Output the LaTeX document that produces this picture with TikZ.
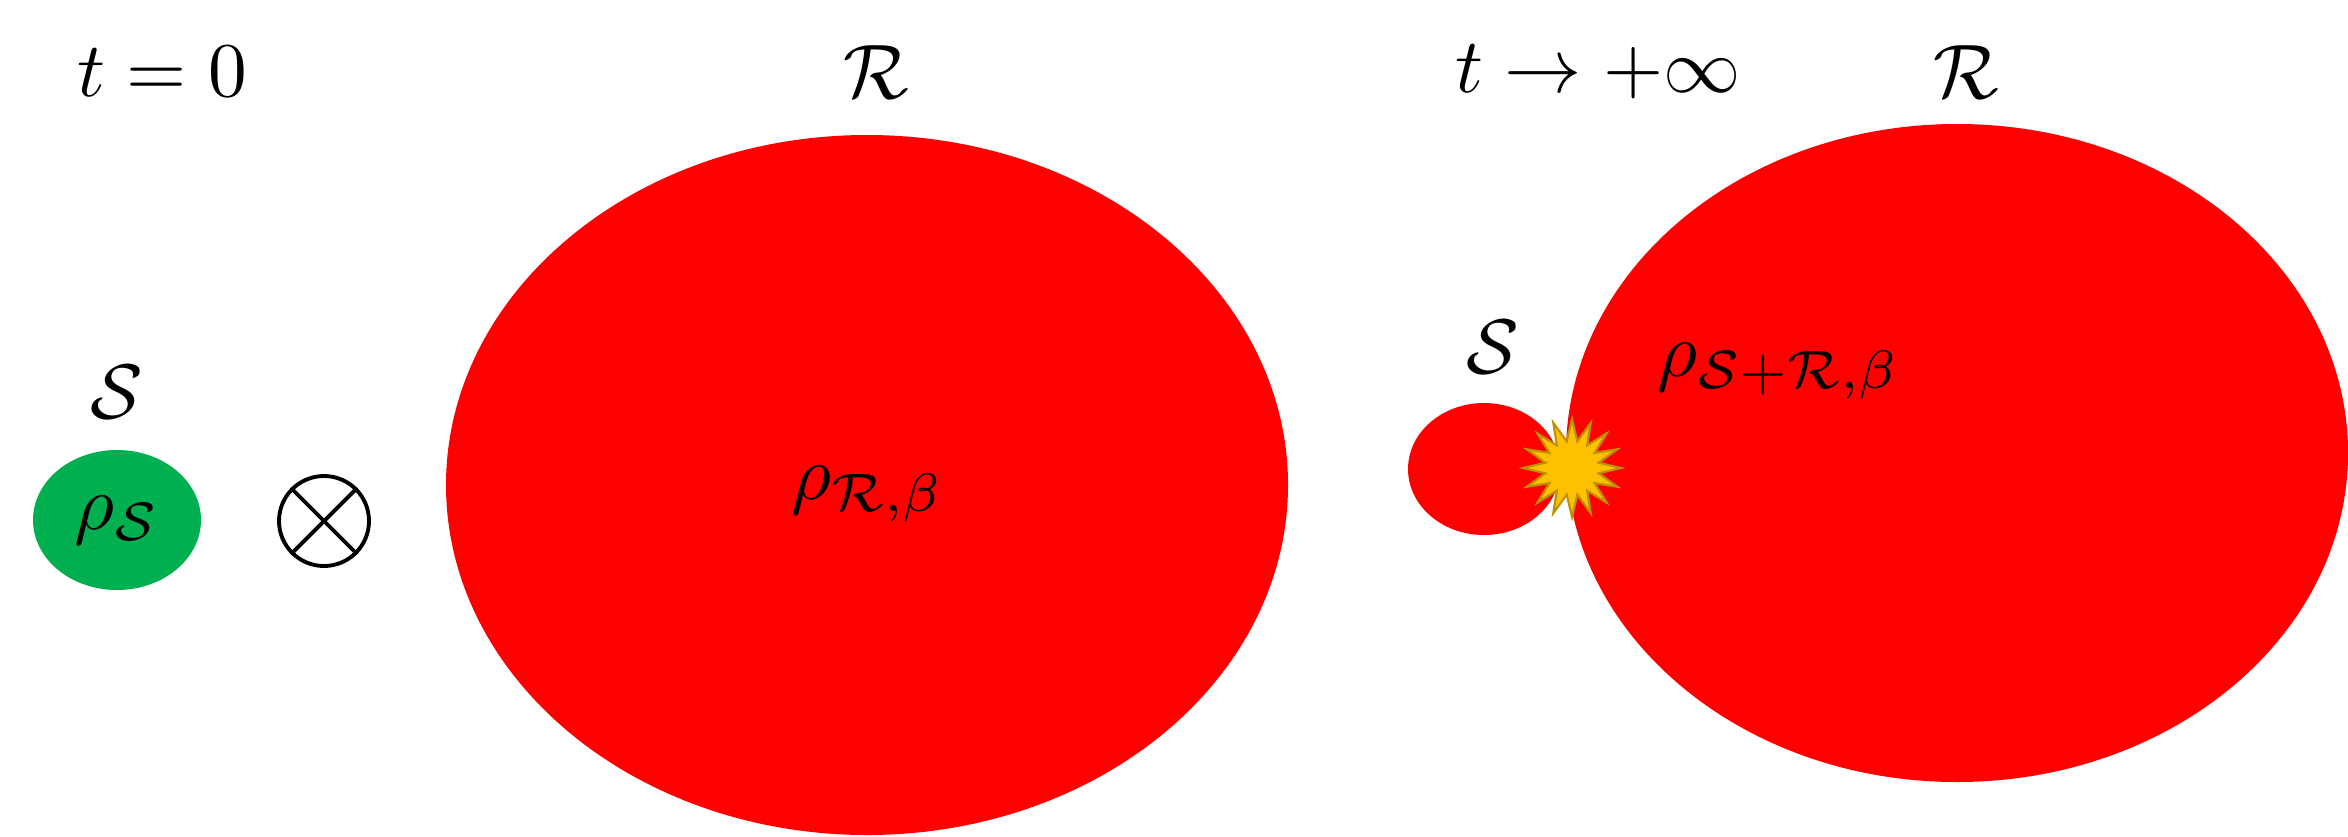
\documentclass[tikz,border=0pt]{standalone}
\usepackage{amsmath,amssymb}
\usepackage{tikz}
\usetikzlibrary{shapes.geometric,positioning}
\definecolor{badrot}{RGB}{255,0,0}
\definecolor{sysgruen}{RGB}{0,176,80}
\definecolor{funkegelb}{RGB}{255,192,0}
\definecolor{funkerand}{RGB}{191,144,0}
\tikzset{
  bad/.style={ellipse, fill=badrot, inner sep=0pt},
  sys/.style={ellipse, inner sep=0pt},
  lbl/.style={inner sep=0pt},
  funke/.style={star, star points=16, star point ratio=1.8, fill=funkegelb, draw=funkerand, line width=0.6pt, minimum size=0.98cm, inner sep=0pt},
  tensor/.style={circle, draw=black, line width=1.1pt, minimum size=0.9cm, inner sep=0pt}
}
\newcommand{\gross}[1]{\scalebox{2.2}{$#1$}}

\begin{document}
\begin{tikzpicture}
\useasboundingbox (0,0) rectangle (23.48,8.36);

% t = 0
\node[lbl] (t0) at (1.62,7.64) {\gross{t=0}};
\node[sys, fill=sysgruen, minimum width=1.68cm, minimum height=1.4cm] (s0) at (1.17,3.16) {};
\node[lbl] at (s0) {\gross{\rho_{\mathcal{S}}}};
\node[lbl] (s0-lbl) at (1.17,4.44) {\gross{\mathcal{S}}};
\node[tensor] (prod) at (3.24,3.15) {};
\draw[line width=1.1pt] (prod.north west) -- (prod.south east);
\draw[line width=1.1pt] (prod.north east) -- (prod.south west);
\node[bad, minimum width=8.42cm, minimum height=7cm] (r0) at (8.67,3.51) {};
\node[lbl] (r0-rho) at (8.68,3.42) {\gross{\rho_{\mathcal{R},\beta}}};
\node[lbl] (r0-lbl) at (8.76,7.64) {\gross{\mathcal{R}}};

% t -> infinity
\node[lbl] (tinf) at (15.98,7.64) {\gross{t\to+\infty}};
\node[bad, minimum width=7.82cm, minimum height=6.58cm] (r1) at (19.57,3.83) {};
\node[sys, fill=badrot, minimum width=1.52cm, minimum height=1.32cm] (s1) at (14.84,3.67) {};
\node[funke] (kontakt) at (15.72,3.68) {};
\node[lbl] (s1-lbl) at (14.93,4.89) {\gross{\mathcal{S}}};
\node[lbl] (r1-rho) at (17.79,4.65) {\gross{\rho_{\mathcal{S}+\mathcal{R},\beta}}};
\node[lbl] (r1-lbl) at (19.66,7.64) {\gross{\mathcal{R}}};

\end{tikzpicture}
\end{document}
